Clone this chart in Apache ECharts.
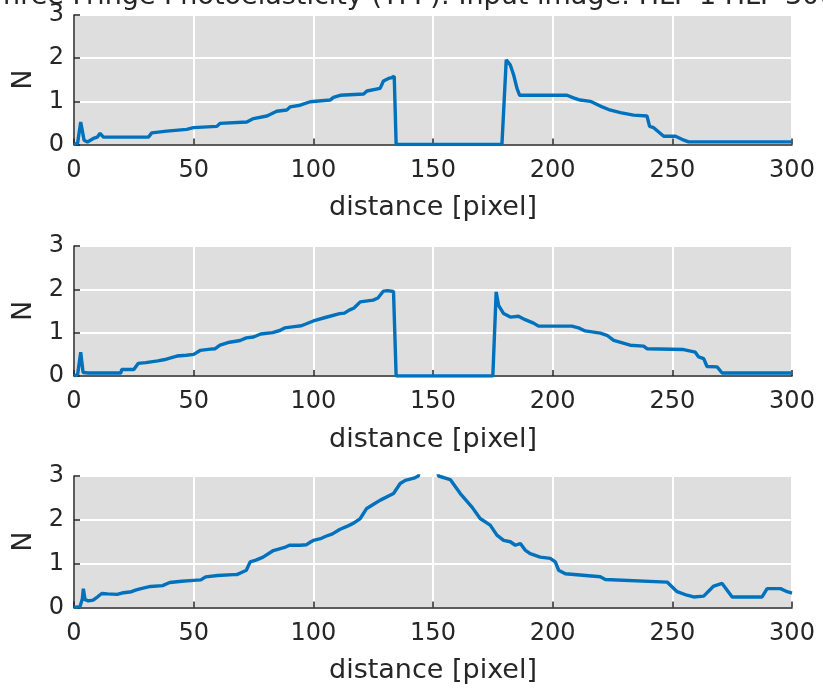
<!DOCTYPE html>
<html>
<head>
<meta charset="utf-8">
<script src="https://cdn.jsdelivr.net/npm/echarts@6/dist/echarts.min.js"></script>
<style>
html,body{margin:0;padding:0;background:#fff;}
#chart{width:823px;height:690px;}
</style>
</head>
<body>
<div id="chart"></div>
<script>
// Tick values and labels
const xTicks = [0, 50, 100, 150, 200, 250, 300];
const yTicks = [0, 1, 2, 3];
const xLabel = 'distance [pixel]';
const yLabel = 'N';
const titleText = 'Three Fringe Photoelasticity (TFP): Input image: HLP 1 HLP 300';

// Profile 1: [distance, N]
const profile1 = [
  [0,0],[1.5,0.03],[2.8,0.52],[4.2,0.1],[5.6,0.06],[8.1,0.14],[9.7,0.17],[10.9,0.26],[12.3,0.17],
  [19.2,0.17],[31.1,0.17],[32.5,0.27],[38.7,0.31],[47.1,0.35],[49.9,0.39],[59.7,0.42],[61,0.49],
  [72.2,0.52],[75,0.6],[80.6,0.66],[84.7,0.77],[88.9,0.8],[90.3,0.87],[94.5,0.91],[98.7,0.99],
  [107,1.03],[108.4,1.09],[111.2,1.14],[121,1.17],[122.4,1.24],[127.9,1.3],[129.3,1.47],[131.4,1.53],
  [132.8,1.55],[133.8,1.58],[134.6,0],[150,0],[178.8,0],[180.6,1.96],[182.3,1.84],[183.7,1.61],
  [185.1,1.3],[186.2,1.14],[206,1.14],[208.7,1.08],[211.5,1.03],[215.7,1.0],[219.9,0.89],[223.4,0.81],
  [228.3,0.74],[233.8,0.68],[239.4,0.66],[240.5,0.42],[242.2,0.39],[244.3,0.29],[246.4,0.19],
  [251.3,0.19],[254,0.12],[256.8,0.06],[300,0.06]
];

// Profile 2
const profile2 = [
  [0,0],[1.5,0.03],[2.8,0.55],[3.8,0.08],[6,0.07],[12,0.07],[19.6,0.07],[19.9,0.15],[25,0.15],
  [26.8,0.29],[30,0.31],[35,0.35],[38,0.38],[40,0.41],[43,0.46],[47,0.48],[50,0.5],[52.7,0.59],
  [57,0.62],[59,0.63],[61,0.71],[65,0.78],[69.4,0.82],[72,0.88],[75,0.9],[78,0.97],[83,1.0],
  [86,1.05],[88,1.11],[92,1.14],[95,1.16],[100,1.27],[105,1.35],[111,1.44],[113,1.45],[115,1.52],
  [117,1.57],[119.6,1.71],[125,1.75],[127,1.8],[129.3,1.96],[131,1.97],[133.5,1.95],[134.6,0],
  [150,0],[175,0],[176.4,1.94],[177.4,1.63],[179.5,1.44],[182.3,1.36],[185.7,1.38],[188.5,1.3],
  [192,1.22],[194.1,1.15],[208,1.15],[210.8,1.11],[213.6,1.04],[219.9,0.99],[222.7,0.94],[225.5,0.82],
  [232.4,0.71],[238,0.69],[239.4,0.63],[254.7,0.61],[259.6,0.55],[261,0.44],[263.1,0.4],[264.5,0.22],
  [268.7,0.21],[270.8,0.07],[300,0.07]
];

// Profile 3
const profile3 = [
  [0,0],[2.5,0.02],[3.5,0.2],[3.9,0.43],[4.6,0.18],[6,0.15],[8,0.17],[10,0.25],[11.6,0.32],
  [14,0.31],[18,0.3],[20,0.33],[24,0.36],[26,0.4],[28,0.43],[32,0.48],[37,0.5],[40,0.57],[45,0.6],
  [50,0.62],[53,0.63],[55,0.7],[60,0.73],[66.6,0.75],[68,0.75],[70,0.8],[72,0.85],[73.6,1.04],
  [76,1.08],[79,1.15],[83.3,1.3],[88,1.37],[90,1.42],[94.5,1.42],[97,1.43],[99,1.5],[100,1.53],
  [103,1.57],[105,1.62],[108,1.68],[111,1.78],[114,1.85],[117,1.93],[119.6,2.03],[122.3,2.26],
  [125,2.35],[128,2.45],[133.5,2.6],[136.3,2.83],[138.4,2.9],[142,2.95],[143.9,3.0],[145.5,3.6],
  [150.5,3.6],[152.3,3.0],[157.2,2.92],[161.4,2.6],[166.3,2.29],[169.7,2.03],[173.9,1.88],[176.7,1.65],
  [179.5,1.53],[182.3,1.5],[184.4,1.42],[186.5,1.46],[188.5,1.31],[190.6,1.23],[194.8,1.15],[199,1.12],
  [201.1,1.04],[202.5,0.85],[205.3,0.77],[219.9,0.7],[222,0.64],[247.8,0.58],[252,0.36],[256.1,0.28],
  [258.9,0.24],[263.1,0.26],[267.3,0.49],[270.8,0.55],[275,0.24],[287.5,0.24],[289.6,0.43],
  [295.2,0.43],[298,0.36],[300,0.33]
];

const profiles = [profile1, profile2, profile3];
const gridTops = [15, 246, 476];
const gridHeights = [129.5, 130, 131.5];

const FONT = 'DejaVu Sans';
const TXT = '#262626';
const BLUE = '#0072BD';

const chart = echarts.init(document.getElementById('chart'), null, {renderer: 'canvas'});

const grids = [], xAxes = [], yAxes = [], series = [];
profiles.forEach((p, i) => {
  grids.push({left: 74, top: gridTops[i], width: 718, height: gridHeights[i],
    show: true, backgroundColor: '#dedede', borderWidth: 0, containLabel: false});
  xAxes.push({
    type: 'value', gridIndex: i, min: xTicks[0], max: xTicks[xTicks.length - 1],
    interval: xTicks[1] - xTicks[0],
    name: xLabel, nameLocation: 'middle', nameGap: 50,
    nameTextStyle: {fontFamily: FONT, fontSize: 27, color: TXT},
    axisLine: {show: true, onZero: false, lineStyle: {color: TXT, width: 1.5}},
    axisTick: {show: true, inside: true, length: 6, lineStyle: {color: TXT, width: 1.5}},
    axisLabel: {fontFamily: FONT, fontSize: 24, color: TXT, margin: 14, showMinLabel: true, showMaxLabel: true},
    splitLine: {show: true, lineStyle: {color: '#ffffff', width: 2}}
  });
  yAxes.push({
    type: 'value', gridIndex: i, min: yTicks[0], max: yTicks[yTicks.length - 1],
    interval: yTicks[1] - yTicks[0],
    name: yLabel, nameLocation: 'middle', nameGap: 25, nameRotate: 90,
    nameTextStyle: {fontFamily: FONT, fontSize: 27, color: TXT},
    axisLine: {show: true, onZero: false, lineStyle: {color: TXT, width: 1.5}},
    axisTick: {show: true, inside: true, length: 6, lineStyle: {color: TXT, width: 1.5}},
    axisLabel: {fontFamily: FONT, fontSize: 24, color: TXT, margin: 10},
    splitLine: {show: true, lineStyle: {color: '#ffffff', width: 2}}
  });
  series.push({
    type: 'line', xAxisIndex: i, yAxisIndex: i, data: p, showSymbol: false, symbol: 'none',
    clip: true, lineStyle: {color: BLUE, width: 3.4}, animation: false, z: 3
  });
});

chart.setOption({
  animation: false,
  backgroundColor: '#ffffff',
  grid: grids, xAxis: xAxes, yAxis: yAxes, series: series,
  graphic: [{
    type: 'text', left: 'center', top: -17,
    style: {text: titleText, font: '27px "DejaVu Sans"', fill: TXT}
  }]
});
</script>
</body>
</html>
